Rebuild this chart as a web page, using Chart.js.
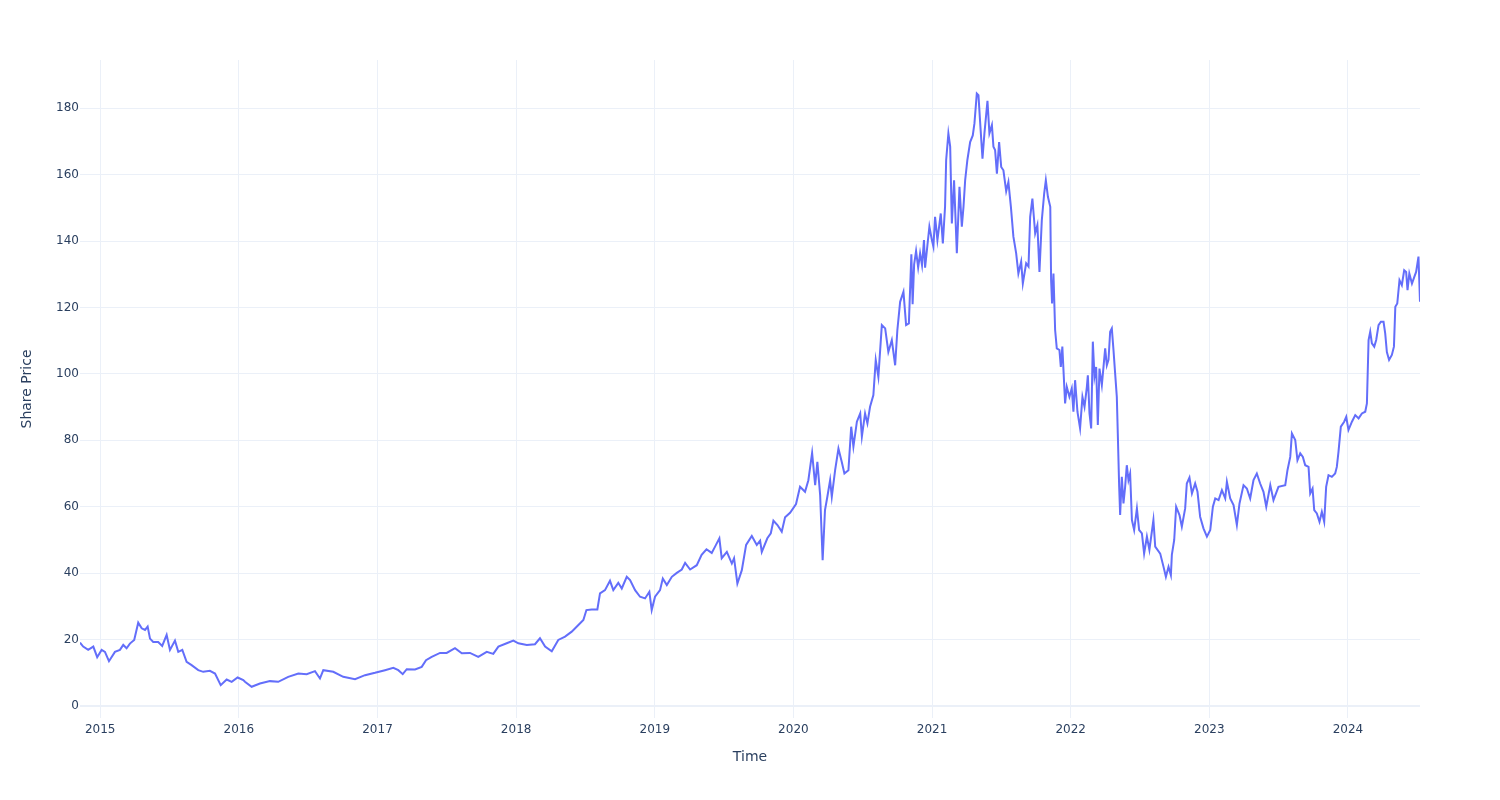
<!DOCTYPE html>
<html>
<head>
<meta charset="utf-8">
<script src="https://cdn.jsdelivr.net/npm/chart.js@4.4.1/dist/chart.umd.min.js"></script>
<style>
  html, body { margin: 0; padding: 0; background: #fff; }
  #wrap { width: 1500px; height: 800px; }
</style>
</head>
<body>
<div id="wrap"><canvas id="priceChart" width="1500" height="800"></canvas></div>
<script>
// time as decimal years, price
var years = [
  2014.854, 2014.877, 2014.913, 2014.950, 2014.978, 2015.010, 2015.034, 2015.063, 2015.106, 2015.142,
  2015.166, 2015.190, 2015.214, 2015.245, 2015.274, 2015.299, 2015.323, 2015.342, 2015.359, 2015.382,
  2015.418, 2015.447, 2015.479, 2015.503, 2015.539, 2015.563, 2015.592, 2015.623, 2015.659, 2015.707,
  2015.743, 2015.791, 2015.828, 2015.869, 2015.912, 2015.948, 2015.991, 2016.032, 2016.044, 2016.092,
  2016.152, 2016.224, 2016.284, 2016.356, 2016.429, 2016.489, 2016.549, 2016.585, 2016.609, 2016.681,
  2016.753, 2016.838, 2016.910, 2016.982, 2017.054, 2017.114, 2017.150, 2017.182, 2017.211, 2017.271,
  2017.319, 2017.350, 2017.391, 2017.451, 2017.499, 2017.559, 2017.608, 2017.667, 2017.727, 2017.788,
  2017.835, 2017.872, 2017.932, 2017.980, 2018.016, 2018.077, 2018.136, 2018.172, 2018.209, 2018.257,
  2018.304, 2018.353, 2018.401, 2018.449, 2018.485, 2018.507, 2018.545, 2018.586, 2018.605, 2018.641,
  2018.677, 2018.701, 2018.737, 2018.762, 2018.798, 2018.822, 2018.858, 2018.894, 2018.930, 2018.961,
  2018.978, 2019.002, 2019.038, 2019.058, 2019.087, 2019.123, 2019.159, 2019.195, 2019.219, 2019.255,
  2019.303, 2019.338, 2019.373, 2019.411, 2019.435, 2019.466, 2019.483, 2019.520, 2019.556, 2019.572,
  2019.596, 2019.628, 2019.659, 2019.700, 2019.736, 2019.760, 2019.772, 2019.812, 2019.837, 2019.856,
  2019.885, 2019.916, 2019.940, 2019.976, 2020.019, 2020.048, 2020.084, 2020.108, 2020.135, 2020.157,
  2020.173, 2020.193, 2020.211, 2020.228, 2020.245, 2020.265, 2020.277, 2020.301, 2020.325, 2020.349,
  2020.368, 2020.397, 2020.417, 2020.433, 2020.458, 2020.482, 2020.494, 2020.517, 2020.534, 2020.553,
  2020.577, 2020.594, 2020.613, 2020.638, 2020.662, 2020.685, 2020.710, 2020.734, 2020.750, 2020.770,
  2020.794, 2020.813, 2020.833, 2020.851, 2020.860, 2020.871, 2020.885, 2020.900, 2020.914, 2020.928,
  2020.942, 2020.950, 2020.967, 2020.981, 2020.999, 2021.010, 2021.022, 2021.039, 2021.063, 2021.078,
  2021.094, 2021.102, 2021.118, 2021.131, 2021.143, 2021.159, 2021.179, 2021.198, 2021.215, 2021.227,
  2021.239, 2021.255, 2021.275, 2021.294, 2021.306, 2021.323, 2021.335, 2021.347, 2021.364, 2021.378,
  2021.400, 2021.414, 2021.432, 2021.443, 2021.455, 2021.468, 2021.484, 2021.499, 2021.515, 2021.535,
  2021.551, 2021.569, 2021.587, 2021.607, 2021.623, 2021.643, 2021.655, 2021.679, 2021.696, 2021.708,
  2021.724, 2021.744, 2021.760, 2021.775, 2021.792, 2021.809, 2021.821, 2021.836, 2021.853, 2021.859,
  2021.866, 2021.876, 2021.888, 2021.900, 2021.919, 2021.929, 2021.940, 2021.960, 2021.972, 2021.991,
  2022.008, 2022.020, 2022.032, 2022.049, 2022.068, 2022.085, 2022.100, 2022.117, 2022.124, 2022.136,
  2022.148, 2022.160, 2022.172, 2022.184, 2022.196, 2022.208, 2022.225, 2022.237, 2022.249, 2022.261,
  2022.273, 2022.285, 2022.297, 2022.309, 2022.321, 2022.333, 2022.340, 2022.350, 2022.357, 2022.369,
  2022.381, 2022.393, 2022.405, 2022.417, 2022.429, 2022.442, 2022.458, 2022.478, 2022.494, 2022.514,
  2022.530, 2022.550, 2022.568, 2022.597, 2022.610, 2022.646, 2022.670, 2022.687, 2022.706, 2022.723,
  2022.730, 2022.747, 2022.761, 2022.785, 2022.802, 2022.826, 2022.838, 2022.857, 2022.875, 2022.898,
  2022.915, 2022.934, 2022.958, 2022.983, 2023.007, 2023.026, 2023.043, 2023.067, 2023.091, 2023.115,
  2023.127, 2023.151, 2023.175, 2023.199, 2023.218, 2023.247, 2023.271, 2023.295, 2023.319, 2023.343,
  2023.367, 2023.391, 2023.411, 2023.440, 2023.463, 2023.499, 2023.548, 2023.564, 2023.584, 2023.596,
  2023.620, 2023.636, 2023.656, 2023.675, 2023.692, 2023.716, 2023.728, 2023.745, 2023.757, 2023.776,
  2023.795, 2023.812, 2023.829, 2023.843, 2023.860, 2023.884, 2023.908, 2023.920, 2023.932, 2023.949,
  2023.973, 2023.988, 2024.004, 2024.029, 2024.053, 2024.077, 2024.101, 2024.125, 2024.137, 2024.149,
  2024.161, 2024.173, 2024.190, 2024.204, 2024.221, 2024.238, 2024.257, 2024.269, 2024.281, 2024.297,
  2024.317, 2024.332, 2024.342, 2024.356, 2024.372, 2024.389, 2024.406, 2024.420, 2024.430, 2024.443,
  2024.462, 2024.479, 2024.492, 2024.509, 2024.520
];

var prices = [
  19.1, 17.9, 16.9, 17.9, 14.7, 16.9, 16.3, 13.5, 16.3, 16.9,
  18.4, 17.4, 18.8, 19.9, 25.1, 23.4, 22.9, 23.9, 20.3, 19.3,
  19.3, 18.1, 21.4, 16.9, 19.7, 16.3, 16.9, 13.3, 12.3, 10.8,
  10.3, 10.6, 9.8, 6.3, 8.0, 7.3, 8.6, 7.8, 7.3, 5.8,
  6.8, 7.5, 7.3, 8.8, 9.8, 9.6, 10.5, 8.3, 10.8, 10.3,
  8.8, 8.1, 9.3, 10.0, 10.8, 11.5, 10.8, 9.6, 11.1, 11.0,
  11.8, 13.8, 14.8, 16.0, 16.0, 17.4, 15.9, 16.0, 14.8, 16.3,
  15.7, 17.9, 18.9, 19.7, 18.9, 18.4, 18.6, 20.4, 17.9, 16.5,
  19.9, 20.9, 22.4, 24.4, 25.9, 28.9, 29.1, 29.1, 33.9, 34.9,
  37.7, 34.9, 37.1, 35.4, 38.9, 37.9, 34.9, 32.9, 32.4, 34.4,
  28.9, 32.9, 34.9, 38.4, 36.4, 38.9, 40.1, 41.1, 43.1, 41.1,
  42.4, 45.5, 47.2, 46.1, 48.0, 50.5, 44.5, 46.4, 42.9, 44.5,
  36.9, 40.9, 48.5, 51.2, 48.5, 49.8, 46.4, 50.5, 52.0, 55.8,
  54.5, 52.5, 56.8, 58.2, 60.8, 66.0, 64.5, 68.0, 76.2, 66.5,
  73.5, 63.5, 43.9, 59.0, 63.0, 68.0, 63.0, 71.0, 77.5, 73.5,
  70.0, 71.0, 84.1, 78.1, 85.6, 88.1, 81.1, 88.1, 85.1, 90.1,
  93.6, 104.2, 99.1, 114.7, 113.7, 106.6, 110.2, 102.6, 113.2, 121.7,
  124.7, 114.7, 115.2, 136.0, 121.0, 133.0, 137.0, 132.0, 136.3, 132.7,
  140.3, 132.0, 138.8, 144.3, 140.3, 138.3, 147.3, 140.3, 148.3, 139.3,
  150.3, 164.4, 172.4, 168.4, 145.3, 158.3, 136.3, 156.3, 144.3, 150.3,
  158.3, 164.4, 169.8, 171.8, 175.4, 184.4, 183.9, 175.8, 164.8, 172.4,
  182.2, 172.4, 174.9, 168.4, 167.4, 160.3, 169.8, 162.3, 161.3, 155.0,
  157.8, 150.3, 141.3, 136.3, 130.2, 133.8, 127.2, 133.3, 132.3, 147.3,
  152.8, 142.3, 144.8, 130.7, 146.3, 154.3, 158.3, 153.3, 150.3, 128.2,
  121.2, 130.2, 113.2, 107.7, 107.2, 102.1, 108.2, 91.1, 96.1, 93.1,
  95.6, 88.6, 98.1, 88.6, 83.6, 93.1, 90.1, 96.1, 99.6, 88.1,
  83.6, 109.7, 99.1, 102.1, 84.6, 101.6, 96.6, 102.1, 107.7, 102.6,
  104.2, 112.7, 113.7, 107.2, 100.1, 93.1, 82.1, 66.0, 57.5, 69.0,
  61.0, 66.0, 72.5, 68.0, 70.0, 56.0, 53.0, 59.5, 53.0, 52.0,
  45.9, 51.0, 47.0, 56.0, 48.0, 45.9, 41.9, 38.9, 41.9, 39.4,
  45.5, 50.0, 60.0, 57.5, 54.0, 59.5, 67.0, 68.8, 64.0, 67.0,
  64.5, 57.0, 53.5, 51.0, 53.0, 60.0, 62.5, 62.0, 65.0, 62.5,
  67.5, 62.5, 60.5, 54.5, 61.0, 66.5, 65.5, 62.5, 68.0, 70.0,
  67.0, 64.5, 60.0, 66.5, 62.0, 66.0, 66.5, 71.0, 75.0, 82.1,
  80.1, 74.0, 76.1, 75.0, 72.5, 72.0, 64.0, 65.5, 59.0, 58.0,
  55.5, 58.5, 55.5, 66.0, 69.5, 69.0, 70.0, 72.0, 76.5, 84.1,
  85.6, 87.1, 83.1, 85.6, 87.6, 86.6, 88.1, 88.6, 91.1, 110.2,
  112.7, 109.2, 108.2, 110.2, 114.7, 115.7, 115.7, 112.2, 106.6, 104.2,
  105.7, 108.2, 120.2, 121.2, 128.2, 126.7, 131.2, 130.7, 125.2, 130.2,
  127.2, 129.2, 130.7, 135.3, 121.7
];

var xTickValues = [2015, 2016, 2017, 2018, 2019, 2020, 2021, 2022, 2023, 2024];
var yTickValues = [0, 20, 40, 60, 80, 100, 120, 140, 160, 180];

var gridColor = '#ebf0f8';
var textColor = '#2a3f5f';
var fontFamily = '"DejaVu Sans", Verdana, sans-serif';

var points = years.map(function(x, i) {
    return { x: x, y: prices[i] };
});

var ctx = document.getElementById('priceChart').getContext('2d');
var priceChart = new Chart(ctx, {
    type: 'line',
    data: {
        datasets: [{
            label: 'Share Price',
            data: points,
            borderColor: '#636efa',
            borderWidth: 2,
            pointRadius: 0,
            tension: 0,
            fill: false
        }]
    },
    options: {
        responsive: false,
        animation: false,
        devicePixelRatio: 1,
        layout: { padding: { top: 60, right: 80, left: 0, bottom: 0 } },
        plugins: {
            legend: { display: false },
            tooltip: { enabled: false }
        },
        scales: {
            x: {
                type: 'linear',
                min: years[0],
                max: years[years.length - 1],
                afterBuildTicks: function(axis) {
                    axis.ticks = xTickValues.map(function(v) { return { value: v }; });
                },
                afterFit: function(axis) { axis.height = 82; },
                ticks: {
                    color: textColor,
                    font: { family: fontFamily, size: 12 },
                    padding: 5,
                    maxRotation: 0,
                    autoSkip: false,
                    callback: function(v) { return String(v); }
                },
                grid: { color: gridColor, lineWidth: 1, drawTicks: false },
                border: { display: false },
                title: {
                    display: true,
                    text: 'Time',
                    color: textColor,
                    font: { family: fontFamily, size: 14 },
                    padding: { top: 0, bottom: 34 }
                }
            },
            y: {
                type: 'linear',
                min: -3.6,
                max: 194.5,
                afterBuildTicks: function(axis) {
                    axis.ticks = yTickValues.map(function(v) { return { value: v }; });
                },
                afterFit: function(axis) { axis.width = 80; },
                ticks: {
                    color: textColor,
                    font: { family: fontFamily, size: 12 },
                    padding: 1,
                    autoSkip: false
                },
                grid: {
                    color: gridColor,
                    lineWidth: function(c) { return c.tick && c.tick.value === 0 ? 2 : 1; },
                    drawTicks: false
                },
                border: { display: false },
                title: {
                    display: true,
                    text: 'Share Price',
                    color: textColor,
                    font: { family: fontFamily, size: 14 },
                    padding: { top: 19, bottom: 0 }
                }
            }
        }
    }
});
</script>
</body>
</html>
